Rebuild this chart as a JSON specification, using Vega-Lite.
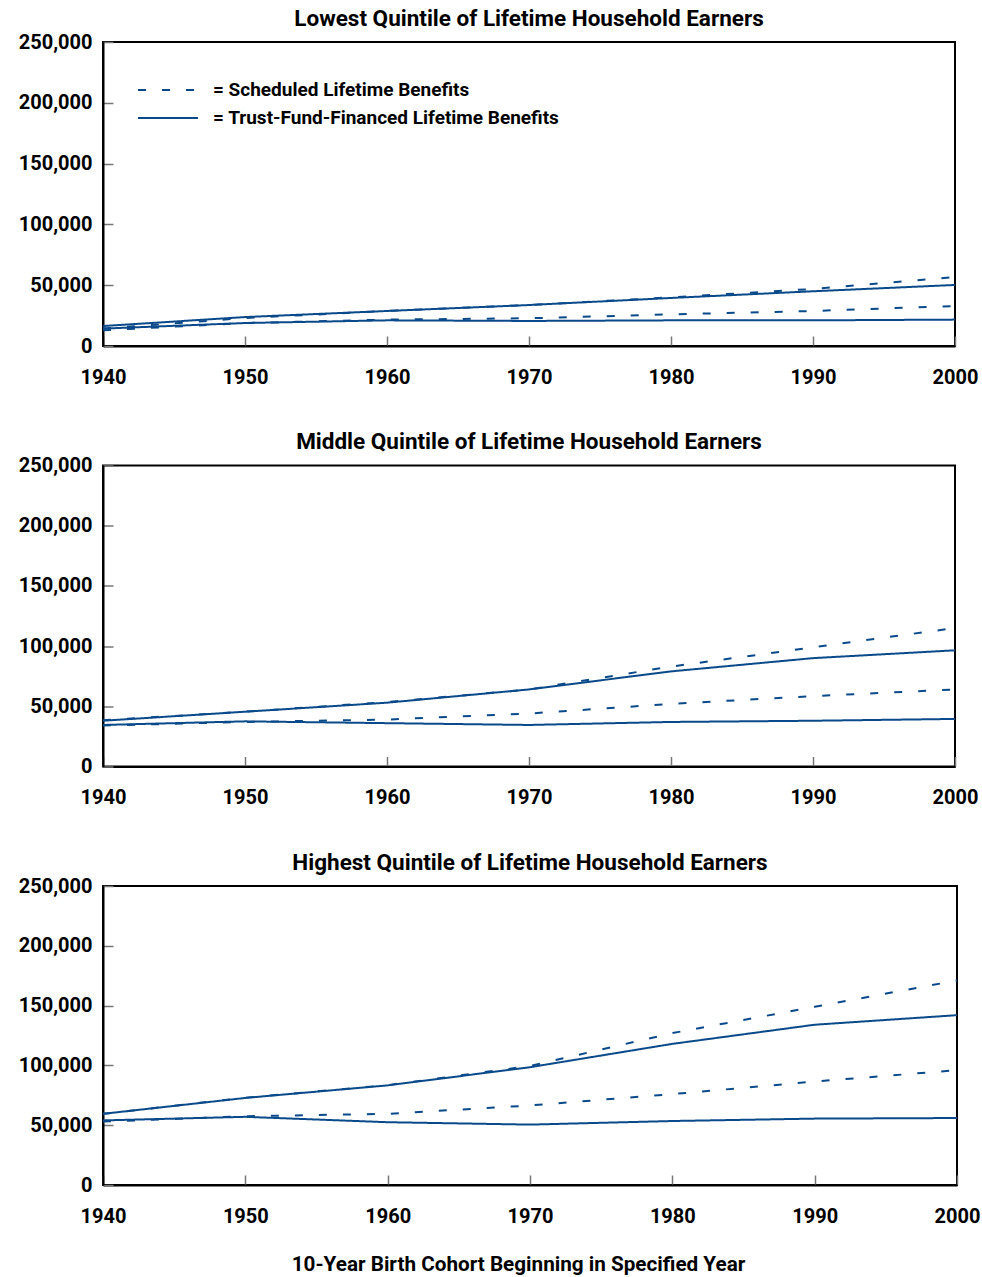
{
  "$schema": "https://vega.github.io/schema/vega-lite/v6.json",
  "padding": {"left": 17, "top": 6, "right": 5, "bottom": 2},
  "background": "#ffffff",
  "config": {
    "font": "Roboto",
    "view": {"stroke": "#000000", "strokeWidth": 2},
    "axis": {
      "labelFont": "Roboto",
      "labelFontSize": 20,
      "labelFontWeight": "bold",
      "labelColor": "#000000",
      "labelFlush": false,
      "domainColor": "#000000",
      "domainWidth": 2,
      "tickColor": "#777777",
      "tickWidth": 1.5,
      "tickSize": -10,
      "grid": false,
      "titleFont": "Roboto",
      "titleFontSize": 20.7,
      "titleFontWeight": "bold",
      "titleColor": "#000000"
    },
    "axisX": {"labelPadding": 31, "titlePadding": 28},
    "axisY": {"labelPadding": 21},
    "title": {"font": "Roboto", "fontSize": 22.5, "fontWeight": "bold", "color": "#000000", "offset": 2, "anchor": "middle", "frame": "group", "baseline": "alphabetic"},
    "concat": {"spacing": 41.5}
  },
  "data": {
    "values": [
      {"panel": "Lowest", "group": "upper", "type": "Scheduled Lifetime Benefits", "year": 1940, "value": 14300},
      {"panel": "Lowest", "group": "upper", "type": "Scheduled Lifetime Benefits", "year": 1950, "value": 23000},
      {"panel": "Lowest", "group": "upper", "type": "Scheduled Lifetime Benefits", "year": 1960, "value": 28800},
      {"panel": "Lowest", "group": "upper", "type": "Scheduled Lifetime Benefits", "year": 1970, "value": 33700},
      {"panel": "Lowest", "group": "upper", "type": "Scheduled Lifetime Benefits", "year": 1980, "value": 40000},
      {"panel": "Lowest", "group": "upper", "type": "Scheduled Lifetime Benefits", "year": 1990, "value": 46900},
      {"panel": "Lowest", "group": "upper", "type": "Scheduled Lifetime Benefits", "year": 2000, "value": 56700},
      {"panel": "Lowest", "group": "upper", "type": "Trust-Fund-Financed Lifetime Benefits", "year": 1940, "value": 16400},
      {"panel": "Lowest", "group": "upper", "type": "Trust-Fund-Financed Lifetime Benefits", "year": 1950, "value": 23800},
      {"panel": "Lowest", "group": "upper", "type": "Trust-Fund-Financed Lifetime Benefits", "year": 1960, "value": 28800},
      {"panel": "Lowest", "group": "upper", "type": "Trust-Fund-Financed Lifetime Benefits", "year": 1970, "value": 33700},
      {"panel": "Lowest", "group": "upper", "type": "Trust-Fund-Financed Lifetime Benefits", "year": 1980, "value": 39500},
      {"panel": "Lowest", "group": "upper", "type": "Trust-Fund-Financed Lifetime Benefits", "year": 1990, "value": 45000},
      {"panel": "Lowest", "group": "upper", "type": "Trust-Fund-Financed Lifetime Benefits", "year": 2000, "value": 50200},
      {"panel": "Lowest", "group": "lower", "type": "Scheduled Lifetime Benefits", "year": 1940, "value": 12900},
      {"panel": "Lowest", "group": "lower", "type": "Scheduled Lifetime Benefits", "year": 1950, "value": 18900},
      {"panel": "Lowest", "group": "lower", "type": "Scheduled Lifetime Benefits", "year": 1960, "value": 21700},
      {"panel": "Lowest", "group": "lower", "type": "Scheduled Lifetime Benefits", "year": 1970, "value": 22800},
      {"panel": "Lowest", "group": "lower", "type": "Scheduled Lifetime Benefits", "year": 1980, "value": 26000},
      {"panel": "Lowest", "group": "lower", "type": "Scheduled Lifetime Benefits", "year": 1990, "value": 28800},
      {"panel": "Lowest", "group": "lower", "type": "Scheduled Lifetime Benefits", "year": 2000, "value": 32900},
      {"panel": "Lowest", "group": "lower", "type": "Trust-Fund-Financed Lifetime Benefits", "year": 1940, "value": 14300},
      {"panel": "Lowest", "group": "lower", "type": "Trust-Fund-Financed Lifetime Benefits", "year": 1950, "value": 18900},
      {"panel": "Lowest", "group": "lower", "type": "Trust-Fund-Financed Lifetime Benefits", "year": 1960, "value": 21100},
      {"panel": "Lowest", "group": "lower", "type": "Trust-Fund-Financed Lifetime Benefits", "year": 1970, "value": 20600},
      {"panel": "Lowest", "group": "lower", "type": "Trust-Fund-Financed Lifetime Benefits", "year": 1980, "value": 21100},
      {"panel": "Lowest", "group": "lower", "type": "Trust-Fund-Financed Lifetime Benefits", "year": 1990, "value": 21100},
      {"panel": "Lowest", "group": "lower", "type": "Trust-Fund-Financed Lifetime Benefits", "year": 2000, "value": 21700},

      {"panel": "Middle", "group": "upper", "type": "Scheduled Lifetime Benefits", "year": 1940, "value": 38500},
      {"panel": "Middle", "group": "upper", "type": "Scheduled Lifetime Benefits", "year": 1950, "value": 45500},
      {"panel": "Middle", "group": "upper", "type": "Scheduled Lifetime Benefits", "year": 1960, "value": 53500},
      {"panel": "Middle", "group": "upper", "type": "Scheduled Lifetime Benefits", "year": 1970, "value": 64000},
      {"panel": "Middle", "group": "upper", "type": "Scheduled Lifetime Benefits", "year": 1980, "value": 83000},
      {"panel": "Middle", "group": "upper", "type": "Scheduled Lifetime Benefits", "year": 1990, "value": 99000},
      {"panel": "Middle", "group": "upper", "type": "Scheduled Lifetime Benefits", "year": 2000, "value": 115000},
      {"panel": "Middle", "group": "upper", "type": "Trust-Fund-Financed Lifetime Benefits", "year": 1940, "value": 38000},
      {"panel": "Middle", "group": "upper", "type": "Trust-Fund-Financed Lifetime Benefits", "year": 1950, "value": 45500},
      {"panel": "Middle", "group": "upper", "type": "Trust-Fund-Financed Lifetime Benefits", "year": 1960, "value": 53000},
      {"panel": "Middle", "group": "upper", "type": "Trust-Fund-Financed Lifetime Benefits", "year": 1970, "value": 64000},
      {"panel": "Middle", "group": "upper", "type": "Trust-Fund-Financed Lifetime Benefits", "year": 1980, "value": 79000},
      {"panel": "Middle", "group": "upper", "type": "Trust-Fund-Financed Lifetime Benefits", "year": 1990, "value": 90000},
      {"panel": "Middle", "group": "upper", "type": "Trust-Fund-Financed Lifetime Benefits", "year": 2000, "value": 96500},
      {"panel": "Middle", "group": "lower", "type": "Scheduled Lifetime Benefits", "year": 1940, "value": 34000},
      {"panel": "Middle", "group": "lower", "type": "Scheduled Lifetime Benefits", "year": 1950, "value": 37000},
      {"panel": "Middle", "group": "lower", "type": "Scheduled Lifetime Benefits", "year": 1960, "value": 39000},
      {"panel": "Middle", "group": "lower", "type": "Scheduled Lifetime Benefits", "year": 1970, "value": 44000},
      {"panel": "Middle", "group": "lower", "type": "Scheduled Lifetime Benefits", "year": 1980, "value": 52000},
      {"panel": "Middle", "group": "lower", "type": "Scheduled Lifetime Benefits", "year": 1990, "value": 58500},
      {"panel": "Middle", "group": "lower", "type": "Scheduled Lifetime Benefits", "year": 2000, "value": 64000},
      {"panel": "Middle", "group": "lower", "type": "Trust-Fund-Financed Lifetime Benefits", "year": 1940, "value": 34500},
      {"panel": "Middle", "group": "lower", "type": "Trust-Fund-Financed Lifetime Benefits", "year": 1950, "value": 37500},
      {"panel": "Middle", "group": "lower", "type": "Trust-Fund-Financed Lifetime Benefits", "year": 1960, "value": 36000},
      {"panel": "Middle", "group": "lower", "type": "Trust-Fund-Financed Lifetime Benefits", "year": 1970, "value": 34500},
      {"panel": "Middle", "group": "lower", "type": "Trust-Fund-Financed Lifetime Benefits", "year": 1980, "value": 37000},
      {"panel": "Middle", "group": "lower", "type": "Trust-Fund-Financed Lifetime Benefits", "year": 1990, "value": 38000},
      {"panel": "Middle", "group": "lower", "type": "Trust-Fund-Financed Lifetime Benefits", "year": 2000, "value": 39500},

      {"panel": "Highest", "group": "upper", "type": "Scheduled Lifetime Benefits", "year": 1940, "value": 59500},
      {"panel": "Highest", "group": "upper", "type": "Scheduled Lifetime Benefits", "year": 1950, "value": 73000},
      {"panel": "Highest", "group": "upper", "type": "Scheduled Lifetime Benefits", "year": 1960, "value": 83500},
      {"panel": "Highest", "group": "upper", "type": "Scheduled Lifetime Benefits", "year": 1970, "value": 99500},
      {"panel": "Highest", "group": "upper", "type": "Scheduled Lifetime Benefits", "year": 1980, "value": 127000},
      {"panel": "Highest", "group": "upper", "type": "Scheduled Lifetime Benefits", "year": 1990, "value": 149000},
      {"panel": "Highest", "group": "upper", "type": "Scheduled Lifetime Benefits", "year": 2000, "value": 171000},
      {"panel": "Highest", "group": "upper", "type": "Trust-Fund-Financed Lifetime Benefits", "year": 1940, "value": 59500},
      {"panel": "Highest", "group": "upper", "type": "Trust-Fund-Financed Lifetime Benefits", "year": 1950, "value": 72800},
      {"panel": "Highest", "group": "upper", "type": "Trust-Fund-Financed Lifetime Benefits", "year": 1960, "value": 83300},
      {"panel": "Highest", "group": "upper", "type": "Trust-Fund-Financed Lifetime Benefits", "year": 1970, "value": 98500},
      {"panel": "Highest", "group": "upper", "type": "Trust-Fund-Financed Lifetime Benefits", "year": 1980, "value": 118000},
      {"panel": "Highest", "group": "upper", "type": "Trust-Fund-Financed Lifetime Benefits", "year": 1990, "value": 134000},
      {"panel": "Highest", "group": "upper", "type": "Trust-Fund-Financed Lifetime Benefits", "year": 2000, "value": 142000},
      {"panel": "Highest", "group": "lower", "type": "Scheduled Lifetime Benefits", "year": 1940, "value": 53000},
      {"panel": "Highest", "group": "lower", "type": "Scheduled Lifetime Benefits", "year": 1950, "value": 57500},
      {"panel": "Highest", "group": "lower", "type": "Scheduled Lifetime Benefits", "year": 1960, "value": 59500},
      {"panel": "Highest", "group": "lower", "type": "Scheduled Lifetime Benefits", "year": 1970, "value": 66500},
      {"panel": "Highest", "group": "lower", "type": "Scheduled Lifetime Benefits", "year": 1980, "value": 76000},
      {"panel": "Highest", "group": "lower", "type": "Scheduled Lifetime Benefits", "year": 1990, "value": 86500},
      {"panel": "Highest", "group": "lower", "type": "Scheduled Lifetime Benefits", "year": 2000, "value": 96000},
      {"panel": "Highest", "group": "lower", "type": "Trust-Fund-Financed Lifetime Benefits", "year": 1940, "value": 54000},
      {"panel": "Highest", "group": "lower", "type": "Trust-Fund-Financed Lifetime Benefits", "year": 1950, "value": 57000},
      {"panel": "Highest", "group": "lower", "type": "Trust-Fund-Financed Lifetime Benefits", "year": 1960, "value": 52500},
      {"panel": "Highest", "group": "lower", "type": "Trust-Fund-Financed Lifetime Benefits", "year": 1970, "value": 50500},
      {"panel": "Highest", "group": "lower", "type": "Trust-Fund-Financed Lifetime Benefits", "year": 1980, "value": 53500},
      {"panel": "Highest", "group": "lower", "type": "Trust-Fund-Financed Lifetime Benefits", "year": 1990, "value": 55500},
      {"panel": "Highest", "group": "lower", "type": "Trust-Fund-Financed Lifetime Benefits", "year": 2000, "value": 56000}
    ]
  },
  "resolve": {"scale": {"strokeDash": "independent"}, "legend": {"strokeDash": "independent"}},
  "vconcat": [
    {
      "title": "Lowest Quintile of Lifetime Household Earners",
      "width": 852,
      "height": 304,
      "transform": [{"filter": "datum.panel === 'Lowest'"}],
      "mark": {"type": "line", "strokeWidth": 2, "color": "#0a4a8a"},
      "encoding": {
        "x": {"field": "year", "type": "quantitative", "title": null, "scale": {"domain": [1940, 2000], "nice": false, "zero": false}, "axis": {"values": [1940, 1950, 1960, 1970, 1980, 1990, 2000], "format": "d"}},
        "y": {"field": "value", "type": "quantitative", "title": null, "scale": {"domain": [0, 250000], "nice": false}, "axis": {"values": [0, 50000, 100000, 150000, 200000, 250000], "format": ",d"}},
        "strokeDash": {
          "field": "type", "type": "nominal",
          "scale": {"domain": ["Scheduled Lifetime Benefits", "Trust-Fund-Financed Lifetime Benefits"], "range": [[8, 16], [1, 0]]},
          "legend": {
            "orient": "none", "legendX": 54, "legendY": 37, "title": null, "padding": 0,
            "symbolType": "M-3,0H3", "symbolSize": 400, "symbolStrokeWidth": 2, "symbolStrokeColor": "#0a4a8a",
            "labelFont": "Roboto", "labelFontSize": 19, "labelFontWeight": "bold", "labelColor": "#000000",
            "labelOffset": 34, "labelExpr": "'= ' + datum.label", "rowPadding": 7, "labelLimit": 500
          }
        },
        "detail": {"field": "group", "type": "nominal"}
      }
    },
    {
      "title": "Middle Quintile of Lifetime Household Earners",
      "width": 852,
      "height": 301,
      "transform": [{"filter": "datum.panel === 'Middle'"}],
      "mark": {"type": "line", "strokeWidth": 2, "color": "#0a4a8a"},
      "encoding": {
        "x": {"field": "year", "type": "quantitative", "title": null, "scale": {"domain": [1940, 2000], "nice": false, "zero": false}, "axis": {"values": [1940, 1950, 1960, 1970, 1980, 1990, 2000], "format": "d"}},
        "y": {"field": "value", "type": "quantitative", "title": null, "scale": {"domain": [0, 250000], "nice": false}, "axis": {"values": [0, 50000, 100000, 150000, 200000, 250000], "format": ",d"}},
        "strokeDash": {
          "field": "type", "type": "nominal",
          "scale": {"domain": ["Scheduled Lifetime Benefits", "Trust-Fund-Financed Lifetime Benefits"], "range": [[8, 16], [1, 0]]},
          "legend": null
        },
        "detail": {"field": "group", "type": "nominal"}
      }
    },
    {
      "title": "Highest Quintile of Lifetime Household Earners",
      "width": 854,
      "height": 299,
      "transform": [{"filter": "datum.panel === 'Highest'"}],
      "mark": {"type": "line", "strokeWidth": 2, "color": "#0a4a8a"},
      "encoding": {
        "x": {"field": "year", "type": "quantitative", "title": "10-Year Birth Cohort Beginning in Specified Year", "scale": {"domain": [1940, 2000], "nice": false, "zero": false}, "axis": {"values": [1940, 1950, 1960, 1970, 1980, 1990, 2000], "format": "d", "titleX": 415}},
        "y": {"field": "value", "type": "quantitative", "title": null, "scale": {"domain": [0, 250000], "nice": false}, "axis": {"values": [0, 50000, 100000, 150000, 200000, 250000], "format": ",d"}},
        "strokeDash": {
          "field": "type", "type": "nominal",
          "scale": {"domain": ["Scheduled Lifetime Benefits", "Trust-Fund-Financed Lifetime Benefits"], "range": [[8, 16], [1, 0]]},
          "legend": null
        },
        "detail": {"field": "group", "type": "nominal"}
      }
    }
  ]
}
